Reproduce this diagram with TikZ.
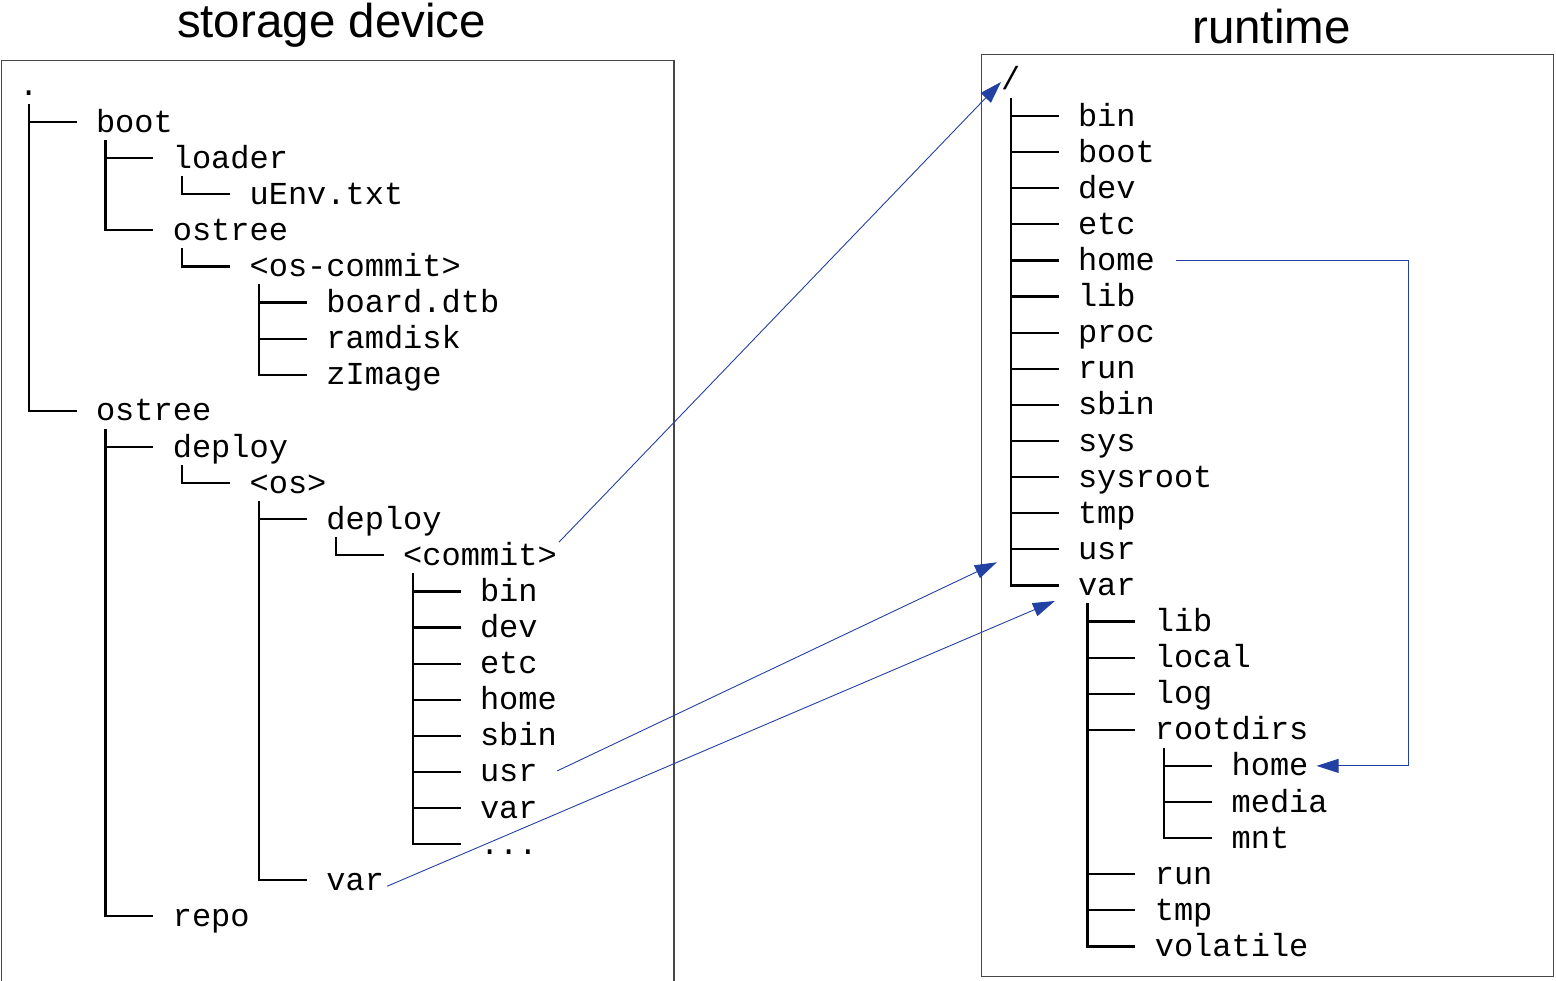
\documentclass[tikz,border=0pt]{standalone}
\usepackage{fontspec}
\setmainfont{Liberation Sans}
\setmonofont{Liberation Mono}
\usetikzlibrary{arrows.meta}
\definecolor{linkblue}{RGB}{35,64,163}
\definecolor{framegray}{RGB}{70,70,70}

\begin{document}
\begin{tikzpicture}[x=1pt,y=-1pt,
  entry/.style={anchor=base west, inner sep=0pt, text height=23pt, text depth=7pt,
                font=\fontsize{32}{36}\selectfont\ttfamily},
  title/.style={anchor=base, inner sep=0pt, font=\fontsize{47.5}{50}\selectfont},
  frame/.style={draw=framegray, line width=1.3pt},
  branch/.style={draw=black, line width=2.2pt, line cap=butt, line join=miter},
  link/.style={draw=linkblue, line width=0.9pt, line join=miter,
               -{Triangle[length=22pt,width=14pt]}},
]
\useasboundingbox (0,0) rectangle (1556,981);
\clip (0,0) rectangle (1556,981);

% headings
\node[title] (tl) at (331.5,38) {storage device};
\node[title] (tr) at (1271.5,44) {runtime};

% frames
\draw[frame] (1.5,60.5) rectangle (674,1010);
\draw[frame] (981.5,54.5) rectangle (1553.5,976.5);

% ---------- storage device tree ----------
\node[entry] (L0) at (19,96) {.};
\foreach \n/\lv/\txt in {1/0/boot, 2/1/loader, 3/2/uEnv.txt, 4/1/ostree,
    5/2/{<os-commit>}, 6/3/board.dtb, 7/3/ramdisk, 8/3/zImage, 9/0/ostree,
    10/1/deploy, 11/2/{<os>}, 12/3/deploy, 13/4/{<commit>}, 14/5/bin,
    15/5/dev, 16/5/etc, 17/5/home, 18/5/sbin, 19/5/usr, 20/5/var,
    22/3/var, 23/1/repo}
  \node[entry] (L\n) at ({95.8+76.8*\lv},{96+36.1*\n}) {\txt};
\node[entry] (L21) at ({95.8+76.8*5},{96+36.1*21}) {...};

% ---------- runtime tree ----------
\node[entry] (R0) at (1001,90) {/};
\foreach \n/\lv/\txt in {1/0/bin, 2/0/boot, 3/0/dev, 4/0/etc, 5/0/home,
    6/0/lib, 7/0/proc, 8/0/run, 9/0/sbin, 10/0/sys, 11/0/sysroot, 12/0/tmp,
    13/0/usr, 14/0/var, 15/1/lib, 16/1/local, 17/1/log, 18/1/rootdirs,
    19/2/home, 20/2/media, 21/2/mnt, 22/1/run, 23/1/tmp, 24/1/volatile}
  \node[entry] (R\n) at ({1077.8+76.8*\lv},{90+36.1*\n}) {\txt};

% branch stubs in front of every entry
\foreach \x in {L1,L2,L3,L4,L5,L6,L7,L8,L9,L10,L11,L12,L13,L14,L15,L16,L17,
    L18,L19,L20,L21,L22,L23,R1,R2,R3,R4,R5,R6,R7,R8,R9,R10,R11,R12,R13,R14,
    R15,R16,R17,R18,R19,R20,R21,R22,R23,R24}
  \draw[branch] ([xshift=-67.2pt,yshift=10pt]\x.base west) -- ++(48,0);

% trunks from each parent down to its last child
\foreach \p/\c in {L0/L9, L1/L4, L2/L3, L4/L5, L5/L8, L9/L23, L10/L11,
    L11/L22, L12/L13, L13/L21, R0/R14, R14/R24, R18/R21}
  \draw[branch] ([xshift=9.6pt,yshift=-8pt]\p.base west)
    |- ([xshift=-19.2pt,yshift=10pt]\c.base west);

% ---------- mappings ----------
\draw[link] ([xshift=2pt]L13.north east) -- (R0.west);
\draw[link] ([xshift=19.4pt,yshift=3pt]L19.east)
  -- ([xshift=-81pt,yshift=-3pt]R13.base west);
\draw[link] ([xshift=3pt,yshift=-4pt]L22.east)
  -- ([xshift=-23pt,yshift=-5.6pt]R14.base west);
\draw[link] ([xshift=21pt,yshift=2pt]R5.east) -- ++(232,0)
  |- ([xshift=8pt,yshift=2pt]R19.east);
\end{tikzpicture}
\end{document}
